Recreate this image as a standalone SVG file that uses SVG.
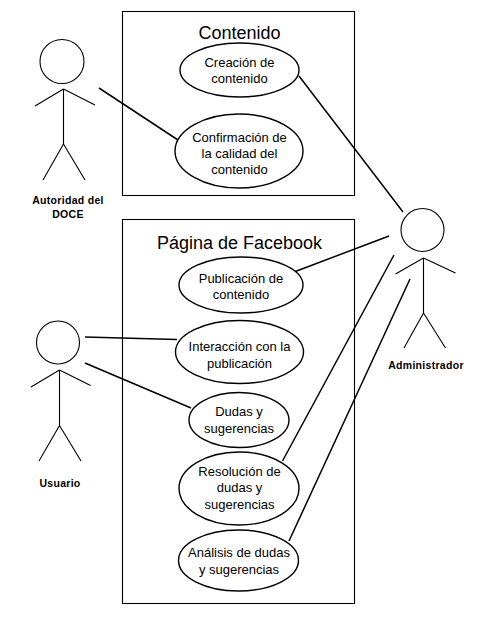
<svg xmlns="http://www.w3.org/2000/svg" width="477" height="621" viewBox="0 0 477 621">
<style>
text{font-family:"Liberation Sans",Arial,sans-serif;fill:#000;text-anchor:middle}
.u{font-size:13px}
.t{font-size:18px}
.a{font-size:10.5px;font-weight:bold;letter-spacing:.3px}
.box{fill:none;stroke:#000;stroke-width:1.1}
.uc{fill:#fff;stroke:#000;stroke-width:1.4}
.st{fill:none;stroke:#000;stroke-width:1.1}
.c{fill:none;stroke:#000;stroke-width:1.5}
</style>
<rect width="477" height="621" fill="#fff"/>
<g id="contenido"><rect class="box" x="122.500" y="11.500" width="232" height="184"/><text class="t" x="239.500" y="39">Contenido</text></g>
<g id="pagina"><rect class="box" x="122.500" y="219.500" width="232" height="384"/><text class="t" x="239.500" y="249">Página de Facebook</text></g>
<g id="connectors">
<path class="c" d="M99 88L178 140"/>
<path class="c" d="M299 76L403 212"/>
<path class="c" d="M294 272L389 236"/>
<path class="c" d="M85 337L177 339.500"/>
<path class="c" d="M85 363L191 408"/>
<path class="c" d="M282.500 461L394 255"/>
<path class="c" d="M289 541L410 279"/>
</g>
<g id="uc1"><ellipse class="uc" cx="239.500" cy="70" rx="59.500" ry="27"/><text class="u" x="239.500" y="67">Creación de</text><text class="u" x="239.500" y="83">contenido</text></g>
<g id="uc2"><ellipse class="uc" cx="239" cy="151" rx="64" ry="37"/><text class="u" x="239.500" y="142">Confirmación de</text><text class="u" x="239.500" y="158">la calidad del</text><text class="u" x="239.500" y="174">contenido</text></g>
<g id="uc3"><ellipse class="uc" cx="241" cy="285" rx="62" ry="28"/><text class="u" x="241" y="283">Publicación de</text><text class="u" x="241" y="299">contenido</text></g>
<g id="uc4"><ellipse class="uc" cx="239.500" cy="352" rx="64" ry="31.500"/><text class="u" x="239.500" y="351">Interacción con la</text><text class="u" x="239.500" y="368">publicación</text></g>
<g id="uc5"><ellipse class="uc" cx="239" cy="420" rx="50" ry="27.500"/><text class="u" x="239" y="416">Dudas y</text><text class="u" x="239" y="433">sugerencias</text></g>
<g id="uc6"><ellipse class="uc" cx="239" cy="488.500" rx="60" ry="36.500"/><text class="u" x="239.500" y="476">Resolución de</text><text class="u" x="239.500" y="492">dudas y</text><text class="u" x="239.500" y="509">sugerencias</text></g>
<g id="uc7"><ellipse class="uc" cx="238.500" cy="560.500" rx="60" ry="30.500"/><text class="u" x="239" y="557">Análisis de dudas</text><text class="u" x="239" y="574">y sugerencias</text></g>
<g id="actor1"><circle class="st" cx="62" cy="61.500" r="22"/><path class="st" d="M63.500 89V144M63.500 89L35 106M63.500 89L95 105M63.500 144L43 180M63.500 144L85 180"/><text class="a" x="68" y="204">Autoridad del</text><text class="a" x="68" y="218">DOCE</text></g>
<g id="actor2"><circle class="st" cx="58" cy="342.500" r="21.500"/><path class="st" d="M59.500 370V425.500M59.500 370L31 387M59.500 370L90.500 385.500M59.500 425.500L39 461M59.500 425.500L81 461"/><text class="a" x="60" y="487">Usuario</text></g>
<g id="actor3"><circle class="st" cx="422.500" cy="230" r="21.500"/><path class="st" d="M423.500 258V313M423.500 258L395.500 274M423.500 258L455.500 273M423.500 313L404 348M423.500 313L445.500 348"/><text class="a" x="426" y="369">Administrador</text></g>
</svg>
